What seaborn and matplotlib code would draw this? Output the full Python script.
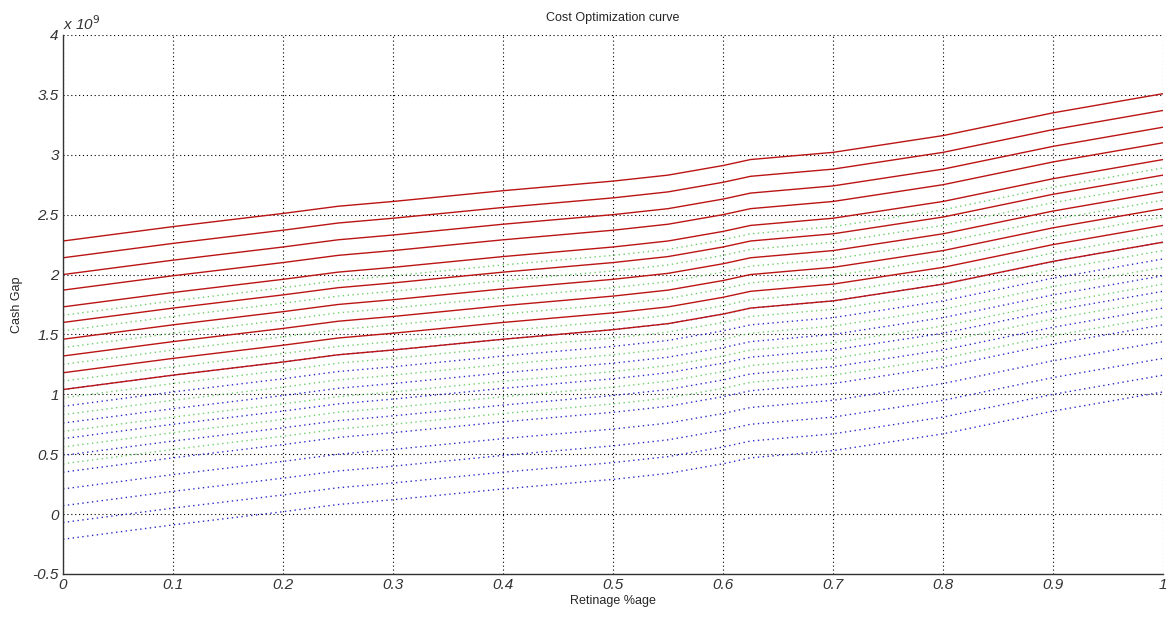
import numpy as np
import pandas as pd
import seaborn as sns
from matplotlib import pyplot as plt
from matplotlib.ticker import FuncFormatter

# retinage fraction where the curve bends
retinage = [0.0, 0.1, 0.2, 0.25, 0.3, 0.4, 0.5, 0.55, 0.6, 0.625, 0.7, 0.8, 0.9, 1.0]
# rise of every curve above its value at 0 (x 1e9)
rise = [0.0, 0.12, 0.23, 0.29, 0.33, 0.42, 0.50, 0.55, 0.63, 0.68, 0.74, 0.88, 1.07, 1.23]

# cash gap at retinage 0 for each curve (x 1e9)
red_start = [2.28, 2.14, 2.00, 1.87, 1.73, 1.60, 1.46, 1.32, 1.18, 1.04]
green_start = [1.66, 1.53, 1.39, 1.25, 1.11, 0.97, 0.83, 0.69, 0.56, 0.42]
blue_start = [1.04, 0.90, 0.76, 0.63, 0.49, 0.35, 0.21, 0.07, -0.07, -0.21]

families = [
    ('blue', blue_start, '#2a2ad0', (0, (1, 2.5))),
    ('green', green_start, '#6cd06c', (0, (1, 2.5))),
    ('red', red_start, '#bb1414', '-'),
]

sns.set_style('white')
plt.rcParams['font.family'] = ['Liberation Sans', 'DejaVu Sans']

fig = plt.figure(figsize=(11.71, 6.19), dpi=100)
ax = fig.add_axes([0.0538, 0.0727, 0.9394, 0.8708])

for name, starts, color, ls in families:
    rows = []
    for i, s in enumerate(starts):
        for x, r in zip(retinage, rise):
            rows.append({'line': i, 'retinage': x, 'gap': (s + r) * 1e9})
    df = pd.DataFrame(rows)
    sns.lineplot(data=df, x='retinage', y='gap', units='line', estimator=None,
                 color=color, linestyle=ls, linewidth=1.0, ax=ax)

ax.set_xlim(0, 1)
ax.set_ylim(-0.5e9, 4e9)
ax.set_xticks(np.arange(0, 1.01, 0.1))
ax.set_yticks(np.arange(-0.5e9, 4.01e9, 0.5e9))
ax.xaxis.set_major_formatter(FuncFormatter(lambda v, p: f'{v:g}'))
ax.yaxis.set_major_formatter(FuncFormatter(lambda v, p: f'{v / 1e9:g}'))
ax.grid(True, color='black', linestyle=(0, (1, 2.5)), linewidth=0.8)
ax.tick_params(direction='in', length=6, width=1, colors='#333333',
               labelsize=11, pad=3)
for lbl in ax.get_xticklabels() + ax.get_yticklabels():
    lbl.set_fontstyle('italic')
    lbl.set_color('#333333')
for side in ['top', 'right']:
    ax.spines[side].set_visible(False)
for side in ['left', 'bottom']:
    ax.spines[side].set_color('#333333')
    ax.spines[side].set_linewidth(1.0)

ax.set_xlabel('Retinage %age', fontsize=9, labelpad=2)
ax.set_ylabel('Cash Gap', fontsize=9, labelpad=7)
ax.set_title('Cost Optimization curve', fontsize=9, pad=10)
ax.text(0.0, 1.003, r'x 10$^9$', transform=ax.transAxes, fontsize=11,
        style='italic', color='#333333', ha='left', va='bottom')

fig.savefig('out.png', dpi=100)
